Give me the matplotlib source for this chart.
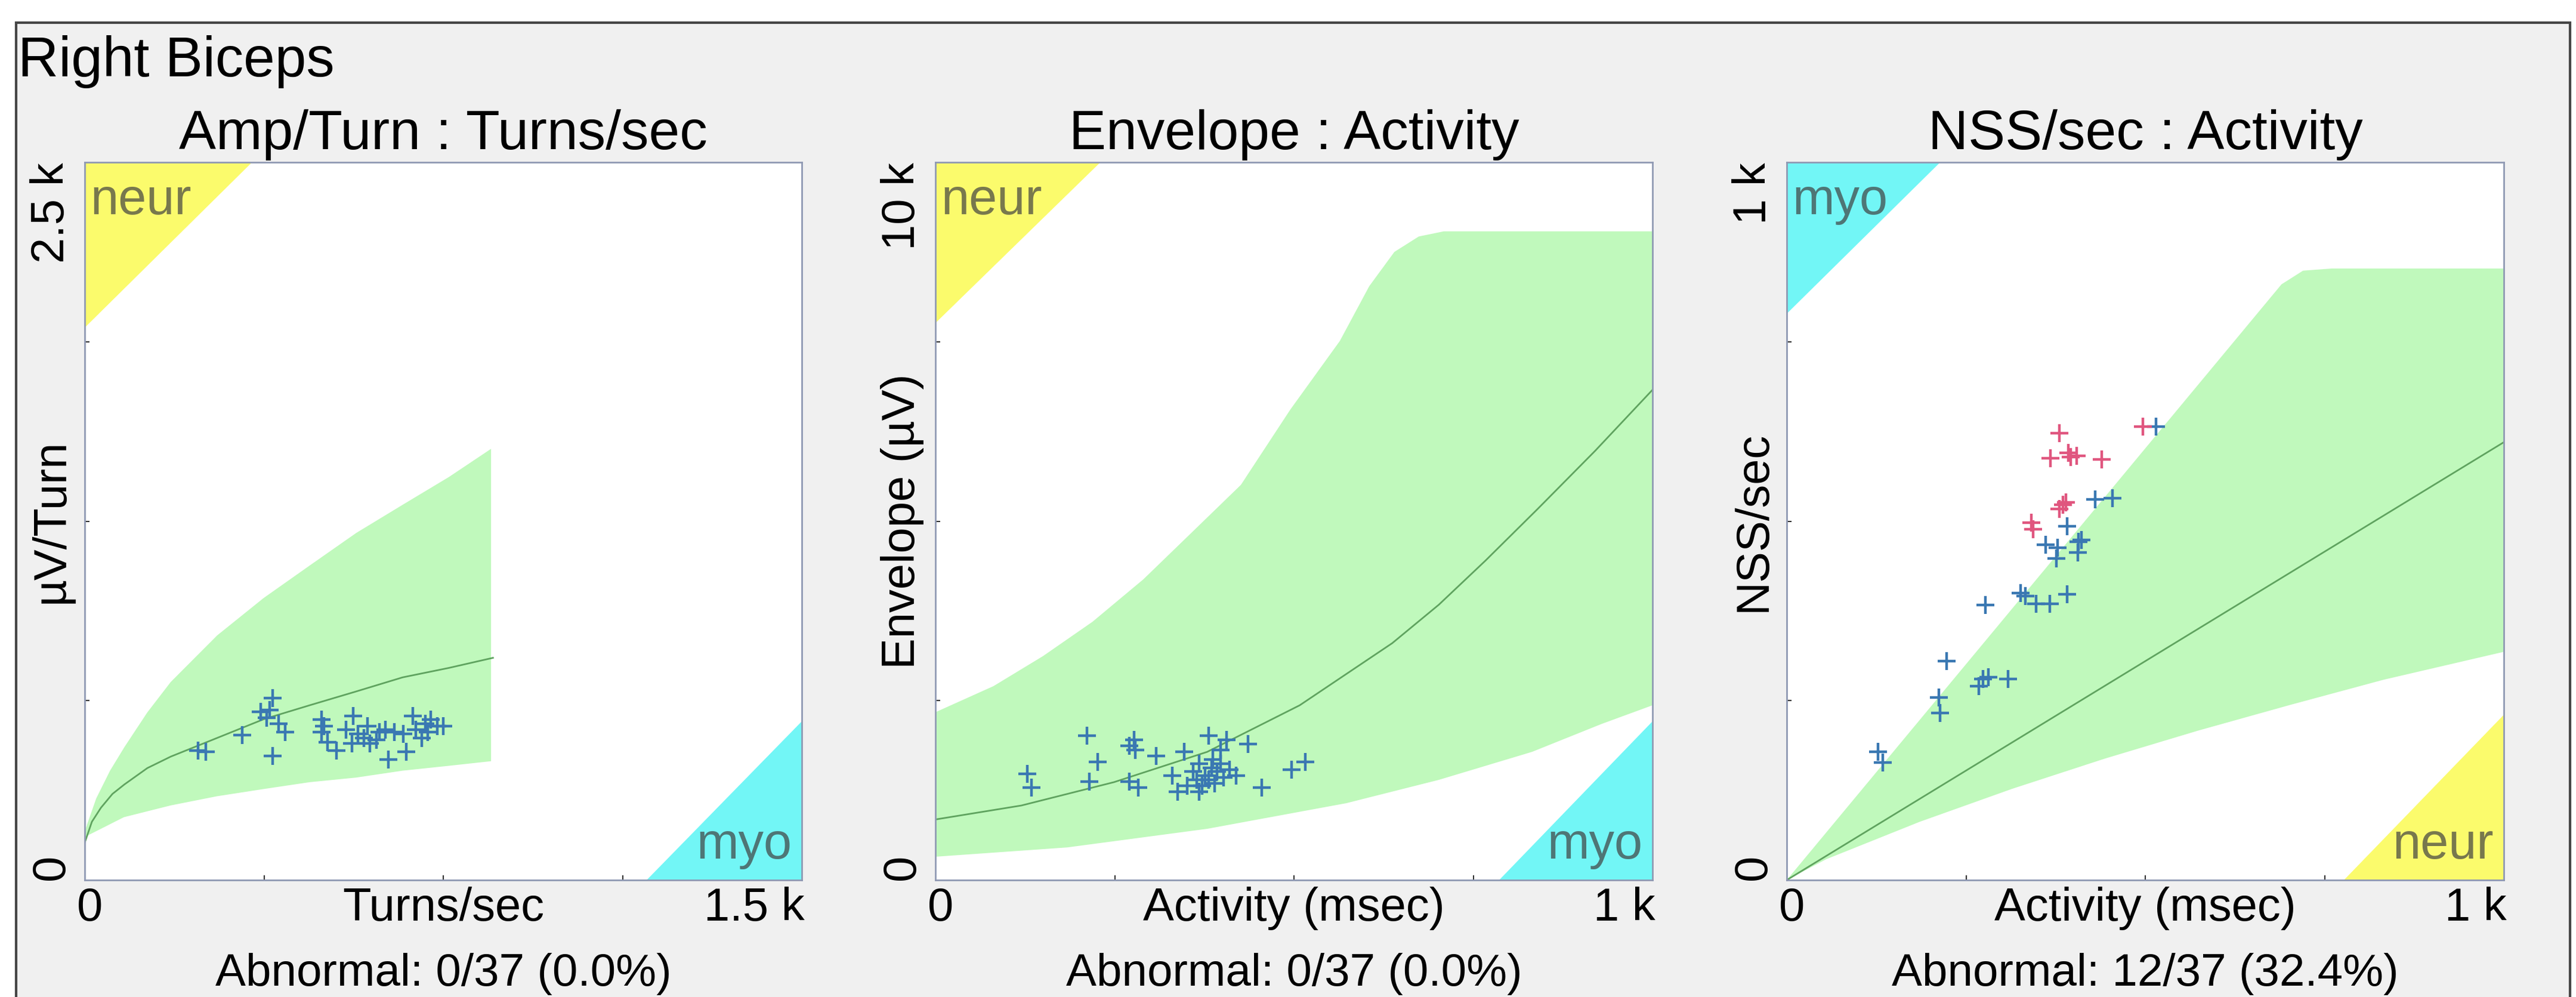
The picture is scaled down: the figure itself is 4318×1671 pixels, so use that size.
import numpy as np
import matplotlib
matplotlib.use('Agg')
import matplotlib.pyplot as plt
from matplotlib.patches import Rectangle

plt.rcParams['font.family'] = ['Liberation Sans', 'DejaVu Sans']

# ---- data ----
muscle = 'Right Biceps'
titles = ['Amp/Turn : Turns/sec', 'Envelope : Activity', 'NSS/sec : Activity']
xlabels = ['Turns/sec', 'Activity (msec)', 'Activity (msec)']
ylabels = ['µV/Turn', 'Envelope (µV)', 'NSS/sec']
xmax = [1500, 1000, 1000]
ymax = [2500, 10000, 1000]
xmax_labels = ['1.5 k', '1 k', '1 k']
ymax_labels = ['2.5 k', '10 k', '1 k']
abnormal = ['Abnormal: 0/37 (0.0%)', 'Abnormal: 0/37 (0.0%)', 'Abnormal: 12/37 (32.4%)']

# Amp/Turn : Turns/sec
p1_up_x = [0, 24, 53, 83, 131, 180, 277, 374, 471, 568, 665, 762, 850]
p1_up_y = [170, 284, 381, 463, 584, 690, 852, 982, 1096, 1209, 1307, 1404, 1502]
p1_lo_x = [0, 82, 180, 277, 374, 471, 568, 665, 762, 850]
p1_lo_y = [150, 219, 260, 292, 317, 341, 357, 381, 398, 414]
p1_mid_x = [0, 15, 34, 58, 83, 131, 180, 277, 374, 471, 568, 665, 762, 854]
p1_mid_y = [130, 203, 252, 300, 333, 390, 430, 495, 560, 609, 657, 706, 739, 774]
p1_x = [237, 253, 330, 393, 387, 368, 381, 406, 419, 393, 495, 501, 495, 508, 527, 546,
        562, 571, 559, 584, 591, 597, 610, 616, 629, 635, 648, 667, 673, 686, 693, 705,
        712, 718, 724, 737, 750]
p1_y = [450, 447, 506, 634, 592, 585, 565, 544, 516, 433, 558, 537, 516, 481, 450, 523,
        571, 509, 475, 495, 537, 475, 488, 516, 523, 419, 516, 509, 447, 571, 523, 495,
        544, 516, 558, 537, 537]

# Envelope : Activity
p2_up_x = [0, 81, 150, 219, 290, 357, 426, 495, 564, 605, 640, 674, 709, 1000]
p2_up_y = [2338, 2702, 3120, 3598, 4190, 4838, 5506, 6556, 7511, 8274, 8751, 8966, 9038, 9038]
p2_lo_x = [0, 184, 379, 573, 702, 832, 929, 1000]
p2_lo_y = [325, 455, 714, 1071, 1396, 1786, 2175, 2435]
p2_mid_x = [0, 120, 249, 379, 508, 637, 702, 767, 840, 920, 1000]
p2_mid_y = [844, 1039, 1364, 1786, 2435, 3300, 3836, 4450, 5172, 5980, 6830]
p2_x = [128, 134, 211, 226, 215, 270, 279, 277, 270, 283, 308, 330, 347, 338, 351, 368,
        381, 376, 385, 389, 393, 398, 406, 410, 402, 436, 455, 497, 516, 372, 364, 387,
        398, 368, 359, 419, 381]
p2_y = [1482, 1288, 2009, 1648, 1371, 1870, 1815, 1953, 1371, 1288, 1732, 1454, 1787,
        1233, 1316, 1621, 2009, 1454, 1565, 1344, 1510, 1815, 1953, 1538, 1427, 1898,
        1288, 1538, 1648, 1316, 1399, 1676, 1621, 1233, 1510, 1454, 1399]

# NSS/sec : Activity
p3_up_x = [0, 690, 720, 760, 1000]
p3_up_y = [0, 830, 849, 852, 852]
p3_lo_x = [0, 55, 185, 314, 443, 573, 702, 832, 1000]
p3_lo_y = [0, 29, 81, 127, 169, 208, 244, 279, 318]
p3_mid_x = [0, 500, 1000]
p3_mid_y = [0, 305, 610]
p3_x = [515, 430, 454, 391, 361, 378, 407, 406, 376, 333, 348, 367, 391, 277, 223, 274,
        268, 309, 212, 214, 127, 134, 281, 326, 411]
p3_y = [632, 530, 532, 493, 467, 463, 471, 456, 448, 396, 385, 385, 398, 383, 305, 280,
        270, 280, 254, 233, 179, 164, 283, 400, 474]
p3_abn_x = [380, 368, 396, 404, 439, 497, 389, 380, 341, 344, 393, 385]
p3_abn_y = [623, 588, 589, 591, 586, 632, 526, 517, 498, 489, 595, 523]

# corner zones: (x vertices, y vertices, label, colour)
p1_zones = [([0, 350, 0], [2500, 2500, 1924], 'neur', '#fbfb6c'),
            ([1175, 1500, 1500], [0, 0, 552], 'myo', '#72f6f6')]
p2_zones = [([0, 230, 0], [10000, 10000, 7760], 'neur', '#fbfb6c'),
            ([786, 1000, 1000], [0, 0, 2208], 'myo', '#72f6f6')]
p3_zones = [([0, 214, 0], [1000, 1000, 789], 'myo', '#72f6f6'),
            ([777, 1000, 1000], [0, 0, 230], 'neur', '#fbfb6c')]

bands = [(p1_up_x, p1_up_y, p1_lo_x, p1_lo_y, p1_mid_x, p1_mid_y),
         (p2_up_x, p2_up_y, p2_lo_x, p2_lo_y, p2_mid_x, p2_mid_y),
         (p3_up_x, p3_up_y, p3_lo_x, p3_lo_y, p3_mid_x, p3_mid_y)]
points = [(p1_x, p1_y, [], []), (p2_x, p2_y, [], []), (p3_x, p3_y, p3_abn_x, p3_abn_y)]
zones = [p1_zones, p2_zones, p3_zones]

W, H = 4318, 1671
fig = plt.figure(figsize=(W / 100, H / 100), dpi=100, facecolor='white')

# grey panel with dark border
fig.add_artist(Rectangle((27 / W, -0.05), (4308 - 27) / W, 1 - 38 / H + 0.05,
                         transform=fig.transFigure, facecolor='#f0f0f0',
                         edgecolor='#454545', linewidth=3, zorder=-5))
fig.text(30 / W, 1 - 128 / H, muscle, fontsize=68, ha='left', va='baseline')

lefts = [142, 1568, 2995]
for i in range(3):
    ax = fig.add_axes([lefts[i] / W, 1 - 1475 / H, 1202 / W, 1203 / H])
    ax.set_xlim(0, xmax[i])
    ax.set_ylim(0, ymax[i])
    ax.set_facecolor('white')
    for s in ax.spines.values():
        s.set_color('#8f99b3')
        s.set_linewidth(2)

    for zx, zy, name, col in zones[i]:
        ax.fill(zx, zy, color=col, lw=0, zorder=1)
        if zy[0] == 0:
            ax.text(0.986, 0.03, name, transform=ax.transAxes, ha='right', va='baseline',
                    fontsize=61, color='#404040', alpha=0.7, zorder=2)
        else:
            ax.text(0.008, 0.928, name, transform=ax.transAxes, ha='left', va='baseline',
                    fontsize=61, color='#404040', alpha=0.7, zorder=2)

    ux, uy, lx, ly, mx, my = bands[i]
    ax.fill(list(ux) + list(lx[::-1]), list(uy) + list(ly[::-1]),
            color='#c0f9bc', lw=0, zorder=1)
    ax.plot(mx, my, color='#5fa35f', lw=2, zorder=2)

    px, py, ax_, ay_ = points[i]
    ax.plot(px, py, ls='none', marker='+', ms=22, mew=3.2, color='#3a78b2', zorder=3)
    if ax_:
        ax.plot(ax_, ay_, ls='none', marker='+', ms=22, mew=3.2, color='#e0567f', zorder=3)

    ax.set_xticks([xmax[i] * f for f in (0.25, 0.5, 0.75)])
    ax.set_yticks([ymax[i] * f for f in (0.25, 0.5, 0.75)])
    ax.tick_params(direction='in', length=6, width=1.5, color='#333333',
                   labelbottom=False, labelleft=False)

    ax.text(0.5, 1.018, titles[i], transform=ax.transAxes, ha='center', va='baseline',
            fontsize=67)
    # x axis labels
    ax.text(0.0075, -0.0565, '0', transform=ax.transAxes, ha='center', va='baseline',
            fontsize=56)
    ax.text(0.5, -0.0565, xlabels[i], transform=ax.transAxes, ha='center', va='baseline',
            fontsize=56)
    ax.text(1.004, -0.0565, xmax_labels[i], transform=ax.transAxes, ha='right',
            va='baseline', fontsize=56)
    # y axis labels
    ax.text(-0.016, 0.0, '0', transform=ax.transAxes, ha='right', va='bottom',
            rotation=90, fontsize=56)
    ax.text(-0.016, 0.5, ylabels[i], transform=ax.transAxes, ha='right', va='center',
            rotation=90, fontsize=56)
    ax.text(-0.016, 1.0, ymax_labels[i], transform=ax.transAxes, ha='right', va='top',
            rotation=90, fontsize=56)

    ax.text(0.5, -0.147, abnormal[i], transform=ax.transAxes, ha='center', va='baseline',
            fontsize=55)

fig.savefig('out.png', dpi=100, facecolor=fig.get_facecolor())
